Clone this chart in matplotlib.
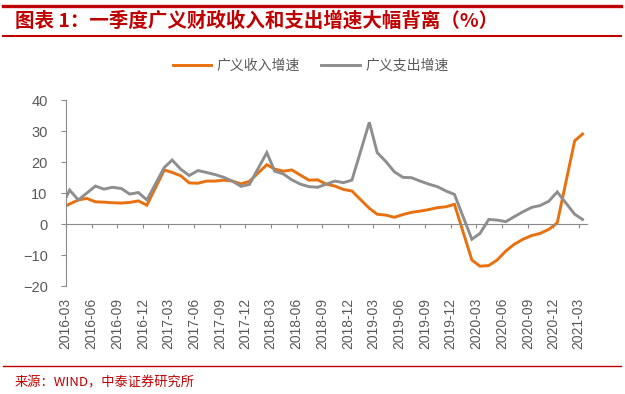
import matplotlib
matplotlib.use("Agg")
import matplotlib.pyplot as plt
import matplotlib.dates as mdates
from matplotlib.lines import Line2D
import pandas as pd

# Monthly cumulative growth, % yoy (no January release).
months = [
    "2016-02", "2016-03", "2016-04", "2016-05", "2016-06", "2016-07", "2016-08", "2016-09", "2016-10", "2016-11", "2016-12",
    "2017-02", "2017-03", "2017-04", "2017-05", "2017-06", "2017-07", "2017-08", "2017-09", "2017-10", "2017-11", "2017-12",
    "2018-02", "2018-03", "2018-04", "2018-05", "2018-06", "2018-07", "2018-08", "2018-09", "2018-10", "2018-11", "2018-12",
    "2019-02", "2019-03", "2019-04", "2019-05", "2019-06", "2019-07", "2019-08", "2019-09", "2019-10", "2019-11", "2019-12",
    "2020-02", "2020-03", "2020-04", "2020-05", "2020-06", "2020-07", "2020-08", "2020-09", "2020-10", "2020-11", "2020-12",
    "2021-02", "2021-03",
]
revenue = [
    5.1, 6.5, 7.8, 8.3, 7.2, 7.1, 6.9, 6.8, 7.0, 7.5, 6.1,
    17.5, 16.7, 15.6, 13.3, 13.2, 13.9, 13.9, 14.2, 13.9, 13.0, 13.8,
    19.2, 17.8, 17.1, 17.5, 15.8, 14.2, 14.3, 12.9, 12.3, 11.2, 10.7,
    5.1, 3.2, 2.9, 2.2, 3.1, 3.8, 4.2, 4.7, 5.3, 5.6, 6.4,
    -11.6, -13.6, -13.4, -11.6, -8.7, -6.5, -4.9, -3.7, -3.0, -1.7, 0.4,
    26.9, 29.1,
]
expenditure = [
    5.6, 11.0, 7.8, 10.0, 12.3, 11.3, 11.9, 11.5, 9.7, 10.2, 7.8,
    18.3, 20.7, 17.7, 15.7, 17.3, 16.7, 16.0, 15.1, 13.9, 12.2, 12.8,
    23.1, 17.1, 16.2, 14.3, 12.9, 12.1, 11.9, 12.9, 13.9, 13.4, 14.2,
    32.9, 23.1, 20.2, 16.9, 15.1, 15.0, 13.9, 12.9, 12.1, 10.7, 9.6,
    -4.9, -3.0, 1.5, 1.3, 0.8, 2.4, 4.0, 5.4, 6.0, 7.4, 10.4,
    3.2, 1.5,
]
tick_labels = [
    "2016-03", "2016-06", "2016-09", "2016-12", "2017-03", "2017-06", "2017-09",
    "2017-12", "2018-03", "2018-06", "2018-09", "2018-12", "2019-03", "2019-06",
    "2019-09", "2019-12", "2020-03", "2020-06", "2020-09", "2020-12", "2021-03",
]
series_names = ["广义收入增速", "广义支出增速"]

orange = "#E8700F"
grey = "#8E8E8E"
red = "#C00000"
axis_grey = "#8A8A8A"
label_grey = "#595959"
latin = ["Liberation Sans", "Noto Sans CJK SC"]
cjk = ["Noto Sans CJK SC", "DejaVu Sans"]

# points sit mid-month, ticks at month start
x = mdates.date2num(pd.to_datetime(months) + pd.Timedelta(days=14))
ticks = mdates.date2num(pd.to_datetime(tick_labels))

fig = plt.figure(figsize=(6.25, 3.94), dpi=100)
ax = fig.add_axes([0.1051, 0.2741, 0.8346, 0.4713])

ax.plot(x, revenue, color=orange, lw=2.1, label=series_names[0], solid_joinstyle="miter")
ax.plot(x, expenditure, color=grey, lw=2.1, label=series_names[1], solid_joinstyle="miter")

ax.set_xlim(ticks[0], mdates.date2num(pd.Timestamp("2021-04-01")))
ax.set_ylim(-20, 40)
ax.set_yticks(range(-20, 41, 10))

for s in ["top", "right"]:
    ax.spines[s].set_visible(False)
ax.spines["left"].set_color(axis_grey)
ax.spines["bottom"].set_color(axis_grey)
ax.spines["bottom"].set_position(("data", 0))

ax.set_xticks(ticks)
ax.tick_params(axis="x", direction="out", length=3.2, color=axis_grey, labelbottom=False)
ax.tick_params(axis="y", direction="out", length=3.6, color=axis_grey, pad=9.4,
               labelsize=10.5, labelcolor=label_grey)
for t in ax.get_yticklabels():
    t.set_family(latin)

# date labels sit below the plot, not on the zero line
sec = ax.secondary_xaxis("bottom")
sec.set_xticks(ticks, labels=tick_labels)
sec.spines["bottom"].set_visible(False)
sec.tick_params(length=0, pad=8.5, labelsize=10, labelcolor=label_grey, labelrotation=90)
for t in sec.get_xticklabels():
    t.set_family(latin)

leg = fig.legend(loc="center", bbox_to_anchor=(0.497, 1 - 65.5 / 394), ncol=2, frameon=False,
                 handlelength=2.8, handletextpad=0.4, columnspacing=1.5,
                 prop={"family": cjk, "size": 10})
for t in leg.get_texts():
    t.set_color(label_grey)

# header and footer rules
fig.add_artist(Line2D([0.005, 0.994], [1 - 5.7 / 394] * 2, color=red, lw=2.4))
fig.add_artist(Line2D([0.005, 0.994], [1 - 35.7 / 394] * 2, color=red, lw=1.5))
fig.add_artist(Line2D([0.005, 0.994], [1 - 365.5 / 394] * 2, color=red, lw=1.0))

fig.text(15 / 625, 1 - 20.5 / 394, "图表 1：一季度广义财政收入和支出增速大幅背离（%）",
         family=cjk, fontsize=14, fontweight="bold", color=red, ha="left", va="center")
fig.text(15 / 625, 1 - 382.5 / 394, "来源：WIND，中泰证券研究所",
         family=cjk, fontsize=9.5, color=red, ha="left", va="center")

fig.savefig("out.png", dpi=100)
